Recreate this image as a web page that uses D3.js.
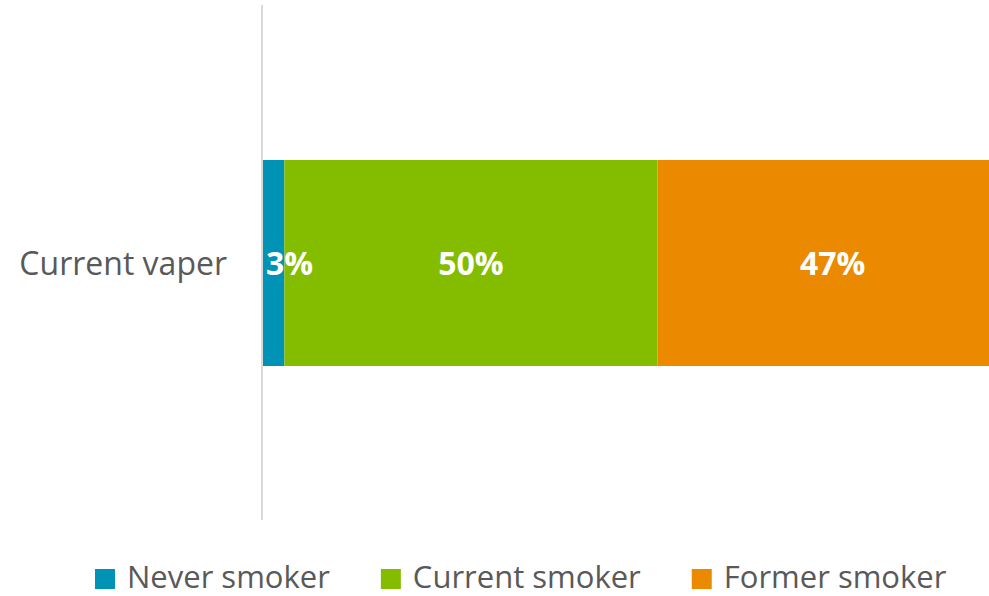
<!DOCTYPE html>
<html>
<head>
<meta charset="utf-8">
<script src="https://cdn.jsdelivr.net/npm/d3@7/dist/d3.min.js"></script>
<style>
  html, body { margin: 0; padding: 0; background: #fff; }
  svg { display: block; font-family: "Open Sans", "Noto Sans", sans-serif; }
</style>
</head>
<body>
<svg id="chart" width="989" height="596"></svg>
<script>
const categories = ["Current vaper"];
const seriesNames = ["Never smoker", "Current smoker", "Former smoker"];
const seriesColors = ["#0093B5", "#84BD00", "#EB8A00"];
const neverSmoker = [3];
const currentSmoker = [50];
const formerSmoker = [47];

const W = 989, H = 596;
const svg = d3.select("#chart");

const rows = categories.map((c, i) => ({
  cat: c,
  "Never smoker": neverSmoker[i],
  "Current smoker": currentSmoker[i],
  "Former smoker": formerSmoker[i]
}));
const stack = d3.stack().keys(seriesNames)(rows);

const axisX = 262;
const x = d3.scaleLinear().domain([0, 100]).range([axisX, 1008]);
const y = d3.scaleBand().domain(categories).range([160, 366]).padding(0);

const color = d3.scaleOrdinal().domain(seriesNames).range(seriesColors);

// bars
const layers = svg.append("g").selectAll("g").data(stack).join("g")
  .attr("fill", d => color(d.key));
layers.selectAll("rect").data(d => d.map(v => ({v, key: d.key})))
  .join("rect")
  .attr("x", d => x(d.v[0]))
  .attr("y", d => y(d.v.data.cat))
  .attr("width", d => x(d.v[1]) - x(d.v[0]))
  .attr("height", y.bandwidth());

// axis line
const yAxis = d3.axisLeft(y).tickSize(0).tickPadding(35);
const ag = svg.append("g").attr("transform", `translate(${axisX},0)`).call(yAxis);
ag.select(".domain").attr("stroke", "#D9D9D9").attr("stroke-width", 2).attr("d", `M0,5V520`);
ag.selectAll(".tick text")
  .attr("font-size", 32)
  .attr("font-family", "'Open Sans', sans-serif")
  .attr("fill", "#595959")
  .attr("dy", "0.38em");

// data labels
const labelG = svg.append("g");
stack.forEach(layer => {
  layer.forEach(v => {
    const val = v[1] - v[0];
    const x0 = x(v[0]), x1 = x(v[1]);
    const cx = (x0 + x1) / 2;
    const t = labelG.append("text")
      .attr("y", y(v.data.cat) + y.bandwidth() / 2)
      .attr("dy", "0.38em")
      .attr("font-size", 32)
      .attr("font-weight", "bold")
      .attr("fill", "#fff")
      .text(val + "%");
    const w = t.node().getComputedTextLength();
    if (cx - w / 2 < axisX) {
      t.attr("x", x0 + 4).attr("text-anchor", "start");
    } else {
      t.attr("x", cx).attr("text-anchor", "middle");
    }
  });
});

// legend
const legend = svg.append("g");
let lx = 95;
seriesNames.forEach((name) => {
  const g = legend.append("g").attr("transform", `translate(${lx},0)`);
  g.append("rect").attr("x", 0).attr("y", 569).attr("width", 20).attr("height", 20).attr("fill", color(name));
  const t = g.append("text").attr("x", 32).attr("y", 588)
    .attr("font-size", 31).attr("fill", "#595959").text(name);
  lx += 32 + t.node().getComputedTextLength() + 51;
});
</script>
</body>
</html>
